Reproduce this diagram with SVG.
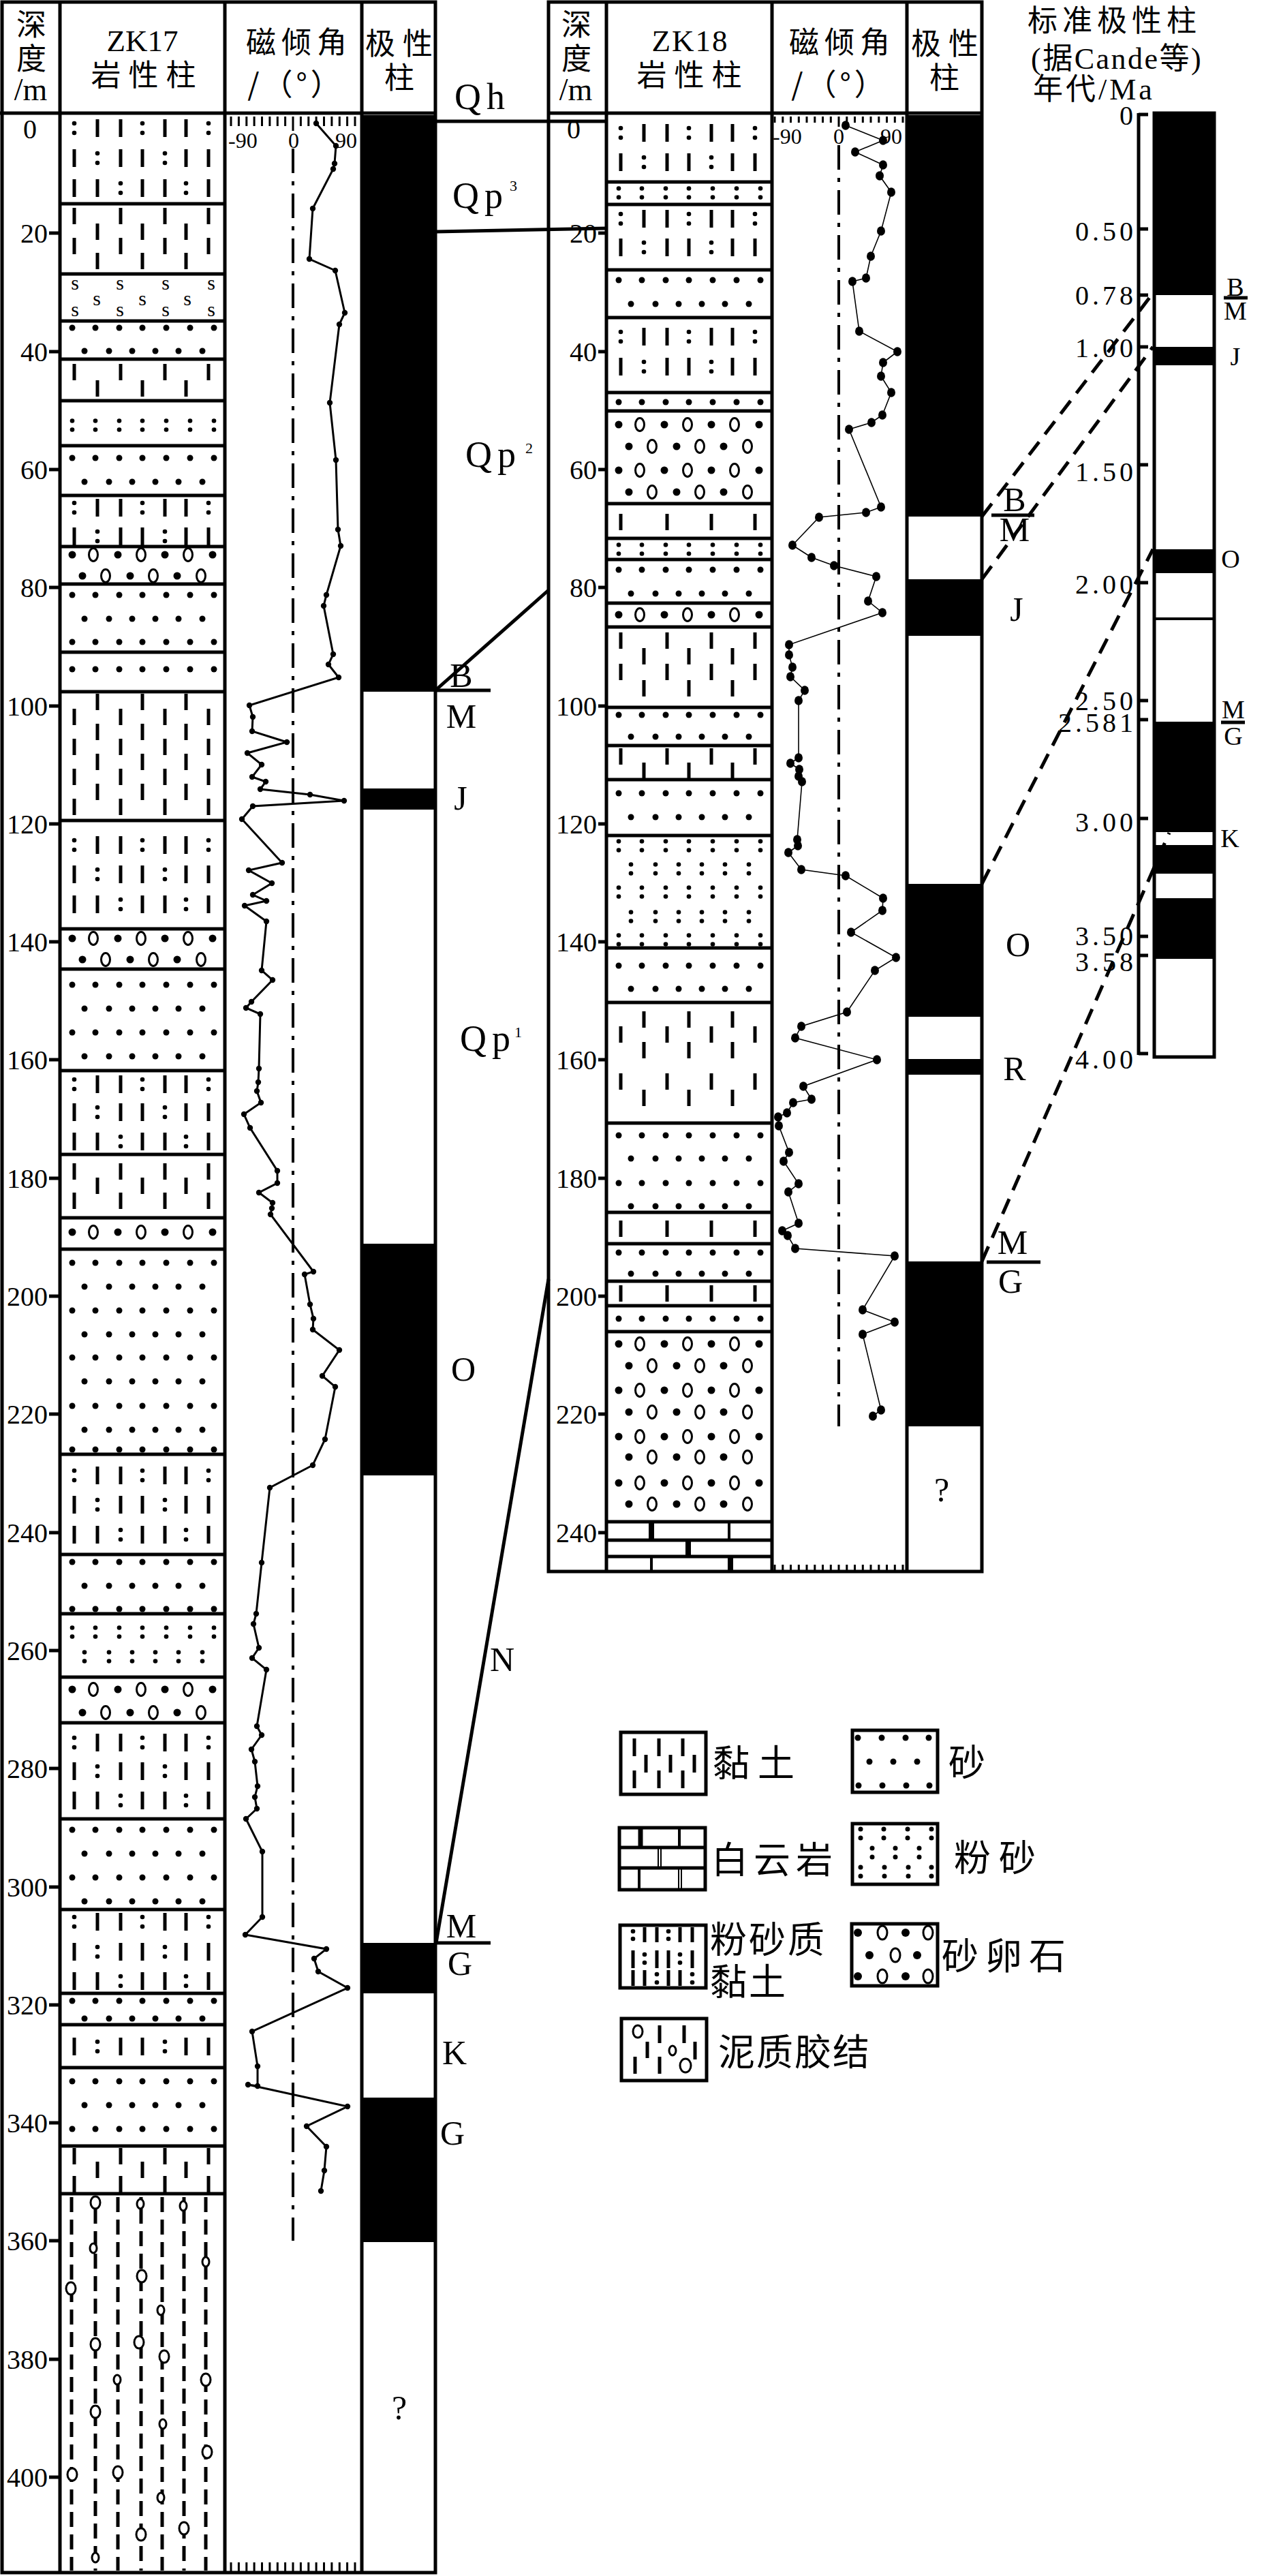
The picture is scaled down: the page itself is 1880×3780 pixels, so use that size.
<svg xmlns="http://www.w3.org/2000/svg" width="1880" height="3780" viewBox="0 0 1880 3780">
<style>
.ln{stroke:#000;stroke-width:5;fill:none}
.tk{stroke:#000;stroke-width:3;fill:none}
.tk5{stroke:#000;stroke-width:5;fill:none}
.cj{font-family:"Noto Sans CJK SC","Liberation Serif",sans-serif;font-size:44px;fill:#000}
.sf{font-family:"Liberation Serif","Noto Sans CJK SC",serif;fill:#000}
.dep{font-size:40px;text-anchor:end}
.lab{font-size:50px;text-anchor:middle}
.sl{font-size:38px;text-anchor:middle}
.ax{font-size:32px}
.mid{text-anchor:middle}
.zero{stroke:#000;stroke-width:4;stroke-dasharray:36 12 6 12;fill:none}
.cv17{stroke:#000;stroke-width:3;fill:none;marker-start:url(#d17);marker-mid:url(#d17);marker-end:url(#d17)}
.cv18{stroke:#000;stroke-width:1.6;fill:none;marker-start:url(#d18);marker-mid:url(#d18);marker-end:url(#d18)}
.dash{stroke:#000;stroke-width:5;stroke-dasharray:24 14;fill:none}
.ov{fill:#fff;stroke:#000;stroke-width:3}
.mud{stroke:#000;stroke-width:5;stroke-dasharray:22 11;fill:none}
.lg{font-family:"Noto Sans CJK SC",sans-serif;font-size:54px;fill:#000}
</style>
<defs>
<marker id="d17" markerWidth="10" markerHeight="10" refX="5" refY="5" markerUnits="userSpaceOnUse"><circle cx="5" cy="5" r="4.2"/></marker>
<marker id="d18" markerWidth="16" markerHeight="16" refX="8" refY="8" markerUnits="userSpaceOnUse"><ellipse cx="8" cy="8" rx="6" ry="6.8"/></marker>
<g id="sA"><circle cx="106" cy="0" r="4.5"/><circle cx="140" cy="0" r="4.5"/><circle cx="175" cy="0" r="4.5"/><circle cx="209" cy="0" r="4.5"/><circle cx="244" cy="0" r="4.5"/><circle cx="279" cy="0" r="4.5"/><circle cx="314" cy="0" r="4.5"/></g>
<g id="sB"><circle cx="124" cy="0" r="4.5"/><circle cx="160" cy="0" r="4.5"/><circle cx="194" cy="0" r="4.5"/><circle cx="228" cy="0" r="4.5"/><circle cx="262" cy="0" r="4.5"/><circle cx="297" cy="0" r="4.5"/></g>
<g id="iA"><circle cx="106" cy="-6.5" r="3.3"/><circle cx="106" cy="6.5" r="3.3"/><circle cx="140" cy="-6.5" r="3.3"/><circle cx="140" cy="6.5" r="3.3"/><circle cx="175" cy="-6.5" r="3.3"/><circle cx="175" cy="6.5" r="3.3"/><circle cx="209" cy="-6.5" r="3.3"/><circle cx="209" cy="6.5" r="3.3"/><circle cx="244" cy="-6.5" r="3.3"/><circle cx="244" cy="6.5" r="3.3"/><circle cx="279" cy="-6.5" r="3.3"/><circle cx="279" cy="6.5" r="3.3"/><circle cx="314" cy="-6.5" r="3.3"/><circle cx="314" cy="6.5" r="3.3"/></g>
<g id="iB"><circle cx="124" cy="-6.5" r="3.3"/><circle cx="124" cy="6.5" r="3.3"/><circle cx="160" cy="-6.5" r="3.3"/><circle cx="160" cy="6.5" r="3.3"/><circle cx="194" cy="-6.5" r="3.3"/><circle cx="194" cy="6.5" r="3.3"/><circle cx="228" cy="-6.5" r="3.3"/><circle cx="228" cy="6.5" r="3.3"/><circle cx="262" cy="-6.5" r="3.3"/><circle cx="262" cy="6.5" r="3.3"/><circle cx="297" cy="-6.5" r="3.3"/><circle cx="297" cy="6.5" r="3.3"/></g>
<g id="gA"><circle cx="106" cy="0" r="5.5"/><ellipse class="ov" cx="137" cy="0" rx="6.5" ry="9.5"/><circle cx="173" cy="0" r="5.5"/><ellipse class="ov" cx="207" cy="0" rx="6.5" ry="9.5"/><circle cx="242" cy="0" r="5.5"/><ellipse class="ov" cx="276" cy="0" rx="6.5" ry="9.5"/><circle cx="312" cy="0" r="5.5"/></g>
<g id="gB"><circle cx="121" cy="0" r="5.5"/><ellipse class="ov" cx="155" cy="0" rx="6.5" ry="9.5"/><circle cx="191" cy="0" r="5.5"/><ellipse class="ov" cx="225" cy="0" rx="6.5" ry="9.5"/><circle cx="260" cy="0" r="5.5"/><ellipse class="ov" cx="295" cy="0" rx="6.5" ry="9.5"/></g>
<g id="sc0"><circle cx="109" cy="-7" r="3.3"/><circle cx="109" cy="7" r="3.3"/><rect x="140.5" y="-13" width="5" height="26"/><rect x="174.5" y="-13" width="5" height="26"/><circle cx="209" cy="-7" r="3.3"/><circle cx="209" cy="7" r="3.3"/><rect x="239.5" y="-13" width="5" height="26"/><rect x="270.5" y="-13" width="5" height="26"/><circle cx="306" cy="-7" r="3.3"/><circle cx="306" cy="7" r="3.3"/></g>
<g id="sc1"><rect x="106.5" y="-13" width="5" height="26"/><circle cx="143" cy="-7" r="3.3"/><circle cx="143" cy="7" r="3.3"/><rect x="174.5" y="-13" width="5" height="26"/><rect x="206.5" y="-13" width="5" height="26"/><circle cx="242" cy="-7" r="3.3"/><circle cx="242" cy="7" r="3.3"/><rect x="270.5" y="-13" width="5" height="26"/><rect x="303.5" y="-13" width="5" height="26"/></g>
<g id="sc2"><rect x="106.5" y="-13" width="5" height="26"/><rect x="140.5" y="-13" width="5" height="26"/><circle cx="177" cy="-7" r="3.3"/><circle cx="177" cy="7" r="3.3"/><rect x="206.5" y="-13" width="5" height="26"/><rect x="239.5" y="-13" width="5" height="26"/><circle cx="273" cy="-7" r="3.3"/><circle cx="273" cy="7" r="3.3"/><rect x="303.5" y="-13" width="5" height="26"/></g>
<g id="cA"><rect x="106.5" y="-12" width="5" height="24"/><rect x="174.5" y="-12" width="5" height="24"/><rect x="239.5" y="-12" width="5" height="24"/><rect x="303.5" y="-12" width="5" height="24"/></g>
<g id="cB"><rect x="140.5" y="-12" width="5" height="24"/><rect x="206.5" y="-12" width="5" height="24"/><rect x="270.5" y="-12" width="5" height="24"/></g>
</defs>
<rect width="1880" height="3780" fill="#fff"/>

<g id="zk17">
<g id="zk17-polarity" fill="#000">
<rect x="531" y="169" width="108" height="846"/>
<rect x="531" y="1157" width="108" height="31"/>
<rect x="531" y="1825" width="108" height="340"/>
<rect x="531" y="2851" width="108" height="74"/>
<rect x="531" y="3078" width="108" height="212"/>
</g>
<g id="zk17-lith" fill="#000">
<use href="#sc0" y="188"/><use href="#sc1" y="232"/><use href="#sc2" y="276"/>
<use href="#cA" y="317"/><use href="#cB" y="340"/><use href="#cA" y="361"/><use href="#cB" y="383"/>
<g class="sf" font-size="30" text-anchor="middle">
<text x="110" y="425">s</text><text x="176" y="425">s</text><text x="243" y="425">s</text><text x="310" y="425">s</text>
<text x="142" y="448">s</text><text x="209" y="448">s</text><text x="275" y="448">s</text>
<text x="110" y="464">s</text><text x="176" y="464">s</text><text x="243" y="464">s</text><text x="310" y="464">s</text>
</g>
<use href="#sA" y="481"/><use href="#sB" y="515"/>
<use href="#cA" y="546"/><use href="#cB" y="570"/>
<use href="#iA" y="624"/>
<use href="#sA" y="672"/><use href="#sB" y="707"/>
<use href="#sc0" y="745"/><use href="#sc1" y="787"/>
<use href="#gA" y="814"/><use href="#gB" y="845"/>
<use href="#sA" y="873"/><use href="#sB" y="908"/><use href="#sA" y="942"/>
<use href="#sA" y="982"/>
<use href="#cB" y="1030"/><use href="#cA" y="1052"/><use href="#cB" y="1074"/><use href="#cA" y="1096"/><use href="#cB" y="1118"/><use href="#cA" y="1140"/><use href="#cB" y="1162"/><use href="#cA" y="1184"/>
<use href="#sc0" y="1240"/><use href="#sc1" y="1283"/><use href="#sc2" y="1327"/>
<use href="#gA" y="1377"/><use href="#gB" y="1408"/>
<use href="#sA" y="1445"/><use href="#sB" y="1480"/><use href="#sA" y="1515"/><use href="#sB" y="1550"/>
<use href="#sc0" y="1591"/><use href="#sc1" y="1632"/><use href="#sc2" y="1675"/>
<use href="#cA" y="1719"/><use href="#cB" y="1740"/><use href="#cA" y="1762"/>
<use href="#gA" y="1808"/>
<use href="#sA" y="1853"/><use href="#sB" y="1888"/><use href="#sA" y="1923"/><use href="#sB" y="1958"/><use href="#sA" y="1992"/><use href="#sB" y="2027"/><use href="#sA" y="2063"/><use href="#sB" y="2098"/><use href="#sA" y="2127"/>
<use href="#sc0" y="2165"/><use href="#sc1" y="2208"/><use href="#sc2" y="2252"/>
<use href="#sA" y="2292"/><use href="#sB" y="2327"/><use href="#sA" y="2361"/>
<use href="#iA" y="2395"/><use href="#iB" y="2431"/>
<use href="#gA" y="2479"/><use href="#gB" y="2513"/>
<use href="#sc0" y="2557"/><use href="#sc1" y="2599"/><use href="#sc2" y="2642"/>
<use href="#sA" y="2685"/><use href="#sB" y="2720"/><use href="#sA" y="2755"/><use href="#sB" y="2790"/>
<use href="#sc0" y="2820"/><use href="#sc1" y="2864"/><use href="#sc2" y="2907"/>
<use href="#sA" y="2936"/><use href="#sB" y="2962"/>
<use href="#sc1" y="3003"/>
<use href="#sA" y="3054"/><use href="#sB" y="3089"/><use href="#sA" y="3124"/>
<use href="#cA" y="3164"/><use href="#cB" y="3184"/><use href="#cA" y="3205"/>
<path class="mud" d="M105 3224V3772M173 3224V3772M238 3224V3772M302 3224V3772"/>
<path class="mud" style="stroke-dashoffset:16" d="M140 3224V3772M207 3224V3772M270 3224V3772"/>
<ellipse class="ov" cx="140" cy="3232" rx="7" ry="9"/><ellipse class="ov" cx="206" cy="3234" rx="5" ry="7"/><ellipse class="ov" cx="269" cy="3237" rx="5" ry="7"/>
<ellipse class="ov" cx="137" cy="3299" rx="5" ry="7"/><ellipse class="ov" cx="302" cy="3319" rx="5" ry="7"/><ellipse class="ov" cx="208" cy="3340" rx="7" ry="9"/>
<ellipse class="ov" cx="104" cy="3358" rx="7" ry="9"/><ellipse class="ov" cx="236" cy="3390" rx="5" ry="7"/><ellipse class="ov" cx="140" cy="3440" rx="7" ry="9"/>
<ellipse class="ov" cx="204" cy="3437" rx="7" ry="9"/><ellipse class="ov" cx="241" cy="3458" rx="7" ry="9"/><ellipse class="ov" cx="172" cy="3492" rx="5" ry="7"/>
<ellipse class="ov" cx="302" cy="3492" rx="7" ry="9"/><ellipse class="ov" cx="140" cy="3539" rx="7" ry="9"/><ellipse class="ov" cx="239" cy="3557" rx="5" ry="7"/>
<ellipse class="ov" cx="304" cy="3598" rx="7" ry="9"/><ellipse class="ov" cx="106" cy="3631" rx="7" ry="9"/><ellipse class="ov" cx="173" cy="3628" rx="7" ry="9"/>
<ellipse class="ov" cx="236" cy="3665" rx="5" ry="7"/><ellipse class="ov" cx="207" cy="3719" rx="7" ry="9"/><ellipse class="ov" cx="270" cy="3710" rx="7" ry="9"/>
<ellipse class="ov" cx="140" cy="3753" rx="5" ry="7"/>
</g>
<path id="zk17-layers" class="ln" d="M88 299H330M88 402H330M88 471H330M88 527H330M88 588H330M88 654H330M88 727H330M88 802H330M88 857H330M88 957H330M88 1015H330M88 1204H330M88 1363H330M88 1422H330M88 1571H330M88 1694H330M88 1787H330M88 1833H330M88 2134H330M88 2281H330M88 2368H330M88 2461H330M88 2528H330M88 2669H330M88 2802H330M88 2925H330M88 2971H330M88 3034H330M88 3149H330M88 3219H330"/>
<path id="zk17-frame" class="ln" d="M3 3H639V3775H3ZM88 3V3775M330 3V3775M531 3V3775"/>
<path class="ln" stroke-width="8" d="M0 166H639"/>
<path class="tk5" d="M72 342H88M72 516H88M72 689H88M72 862H88M72 1036H88M72 1209H88M72 1382H88M72 1555H88M72 1729H88M72 1902H88M72 2075H88M72 2249H88M72 2422H88M72 2595H88M72 2769H88M72 2942H88M72 3115H88M72 3288H88M72 3462H88M72 3635H88"/>
<g class="sf dep">
<text x="44" y="203" text-anchor="middle">0</text>
<text x="70" y="356">20</text><text x="70" y="530">40</text><text x="70" y="703">60</text><text x="70" y="876">80</text>
<text x="70" y="1050">100</text><text x="70" y="1223">120</text><text x="70" y="1396">140</text><text x="70" y="1569">160</text>
<text x="70" y="1743">180</text><text x="70" y="1916">200</text><text x="70" y="2089">220</text><text x="70" y="2263">240</text>
<text x="70" y="2436">260</text><text x="70" y="2609">280</text><text x="70" y="2783">300</text><text x="70" y="2956">320</text>
<text x="70" y="3129">340</text><text x="70" y="3302">360</text><text x="70" y="3476">380</text><text x="70" y="3649">400</text>
</g>
<path class="tk" d="M339 171V185M350.4 171V185M361.8 171V185M373.1 171V185M384.5 171V185M395.9 171V185M407.3 171V185M418.6 171V185M430 171V192M441.4 171V185M452.8 171V185M464.1 171V185M475.5 171V185M486.9 171V185M498.3 171V185M509.6 171V185M521 171V185"/>
<path class="tk" d="M339 3760V3775M350.4 3760V3775M361.8 3760V3775M373.1 3760V3775M384.5 3760V3775M395.9 3760V3775M407.3 3760V3775M418.6 3760V3775M430 3760V3775M441.4 3760V3775M452.8 3760V3775M464.1 3760V3775M475.5 3760V3775M486.9 3760V3775M498.3 3760V3775M509.6 3760V3775M521 3760V3775"/>
<text class="sf ax" x="335" y="217">-90</text><text class="sf ax mid" x="431" y="217">0</text><text class="sf ax mid" x="508" y="217">90</text>
<path class="zero" d="M430 218V3288"/>
<polyline class="cv17" points="464,181 493,214 491,240 489,248 459,306 454,380 492,397 506,459 498,476 484,591 493,675 496,777 500,801 479,873 475,889 489,960 482,975 497,994 366,1035 371,1052 370,1073 421,1089 363,1105 384,1122 370,1140 390,1147 382,1158 455,1166 505,1175 371,1183 355,1202 414,1266 365,1277 399,1296 371,1313 391,1322 359,1329 391,1352 384,1424 400,1438 369,1470 361,1479 382,1488 380,1568 379,1588 377,1601 383,1618 358,1635 367,1655 407,1718 407,1736 380,1750 400,1765 399,1773 397,1782 460,1866 447,1870 455,1914 460,1935 459,1951 498,1981 473,2019 492,2035 477,2112 459,2150 396,2183 384,2293 376,2368 372,2383 380,2418 370,2433 391,2450 377,2533 384,2546 369,2567 374,2585 378,2621 374,2637 377,2654 361,2669 385,2717 385,2813 360,2839 479,2860 461,2874 467,2893 510,2917 370,2981 378,3032 378,3061 364,3059 510,3091 450,3120 479,3150 476,3185 471,3215"/>
<g id="zk17-header">
<text class="cj mid"><tspan x="46" y="52">深</tspan><tspan x="46" y="102">度</tspan><tspan class="sf" font-size="46" x="45" y="147">/m</tspan></text>
<text class="mid"><tspan class="sf" font-size="45" x="209" y="75">ZK17</tspan><tspan class="cj" x="216" y="126" letter-spacing="11">岩性柱</tspan></text>
<text class="cj mid"><tspan x="439" y="78" letter-spacing="8">磁倾角</tspan><tspan x="434" y="140" letter-spacing="5">/（°）</tspan></text>
<text class="cj mid"><tspan x="591" y="80" letter-spacing="11">极性</tspan><tspan x="586" y="130">柱</tspan></text>
</g>
</g>

<g id="zk18">
<g id="zk18-polarity" fill="#000">
<rect x="1331" y="169" width="110" height="589"/>
<rect x="1331" y="850" width="110" height="83"/>
<rect x="1331" y="1297" width="110" height="195"/>
<rect x="1331" y="1554" width="110" height="23"/>
<rect x="1331" y="1851" width="110" height="242"/>
</g>
<g id="zk18-lith" fill="#000">
<use href="#sc0" x="802" y="195"/><use href="#sc1" x="802" y="238"/>
<use href="#iA" x="802" y="283"/>
<use href="#sc0" x="802" y="321"/><use href="#sc1" x="802" y="363"/>
<use href="#sA" x="802" y="411"/><use href="#sB" x="802" y="446"/>
<use href="#sc0" x="802" y="494"/><use href="#sc1" x="802" y="538"/>
<use href="#sA" x="802" y="590"/>
<use href="#gA" x="802" y="623"/><use href="#gB" x="802" y="655"/><use href="#gA" x="802" y="690"/><use href="#gB" x="802" y="722"/>
<use href="#cA" x="802" y="766"/>
<use href="#iA" x="802" y="806"/>
<use href="#sA" x="802" y="836"/><use href="#sB" x="802" y="871"/>
<use href="#gA" x="802" y="902"/>
<use href="#cA" x="802" y="940"/><use href="#cB" x="802" y="963"/><use href="#cA" x="802" y="986"/><use href="#cB" x="802" y="1010"/>
<use href="#sA" x="802" y="1049"/><use href="#sB" x="802" y="1081"/>
<use href="#cA" x="802" y="1110"/><use href="#cB" x="802" y="1131"/>
<use href="#sA" x="802" y="1164"/><use href="#sB" x="802" y="1199"/>
<use href="#iA" x="802" y="1241"/><use href="#iB" x="802" y="1275"/><use href="#iA" x="802" y="1309"/><use href="#iB" x="802" y="1345"/><use href="#iA" x="802" y="1379"/>
<use href="#sA" x="802" y="1417"/><use href="#sB" x="802" y="1451"/>
<use href="#cB" x="802" y="1496"/><use href="#cA" x="802" y="1518"/><use href="#cB" x="802" y="1541"/><use href="#cA" x="802" y="1587"/><use href="#cB" x="802" y="1611"/>
<use href="#sA" x="802" y="1666"/><use href="#sB" x="802" y="1700"/><use href="#sA" x="802" y="1736"/><use href="#sB" x="802" y="1770"/>
<use href="#cA" x="802" y="1803"/>
<use href="#sA" x="802" y="1838"/><use href="#sB" x="802" y="1869"/>
<use href="#cA" x="802" y="1898"/>
<use href="#sA" x="802" y="1935"/>
<use href="#gA" x="802" y="1972"/><use href="#gB" x="802" y="2004"/><use href="#gA" x="802" y="2040"/><use href="#gB" x="802" y="2072"/><use href="#gA" x="802" y="2108"/><use href="#gB" x="802" y="2138"/><use href="#gA" x="802" y="2176"/><use href="#gB" x="802" y="2207"/>
</g>
<path id="zk18-layers" class="ln" d="M890 267H1133M890 300H1133M890 396H1133M890 466H1133M890 576H1133M890 603H1133M890 739H1133M890 790H1133M890 821H1133M890 885H1133M890 920H1133M890 1038H1133M890 1094H1133M890 1144H1133M890 1226H1133M890 1391H1133M890 1471H1133M890 1648H1133M890 1779H1133M890 1825H1133M890 1880H1133M890 1916H1133M890 1954H1133M890 2233H1133M890 2260H1133M890 2284H1133"/>
<path id="zk18-dolomite" d="M956 2233V2260M1010 2260V2284M1072 2284V2306" stroke="#000" stroke-width="8"/>
<path d="M1070 2233V2260M956 2284V2306" stroke="#000" stroke-width="4"/>
<path id="zk18-frame" class="ln" d="M805 3H1441V2306H805ZM890 3V2306M1133 3V2306M1331 3V2306"/>
<path class="ln" stroke-width="8" d="M805 166H1441"/>
<path class="tk5" d="M878 342H890M878 516H890M878 689H890M878 862H890M878 1036H890M878 1209H890M878 1382H890M878 1555H890M878 1729H890M878 1902H890M878 2075H890M878 2249H890"/>
<g class="sf dep">
<text x="842" y="203" text-anchor="middle">0</text>
<text x="876" y="356">20</text><text x="876" y="530">40</text><text x="876" y="703">60</text><text x="876" y="876">80</text>
<text x="876" y="1050">100</text><text x="876" y="1223">120</text><text x="876" y="1396">140</text><text x="876" y="1569">160</text>
<text x="876" y="1743">180</text><text x="876" y="1916">200</text><text x="876" y="2089">220</text><text x="876" y="2263">240</text>
</g>
<path class="tk" d="M1137 171V180M1148.8 171V180M1160.5 171V180M1172.3 171V180M1184 171V180M1195.8 171V180M1207.5 171V180M1219.3 171V180M1231 171V186M1242.8 171V180M1254.5 171V180M1266.3 171V180M1278 171V180M1289.8 171V180M1301.5 171V180M1313.3 171V180M1325 171V180"/>
<path class="tk" d="M1137 2296V2306M1148.8 2296V2306M1160.5 2296V2306M1172.3 2296V2306M1184 2296V2306M1195.8 2296V2306M1207.5 2296V2306M1219.3 2296V2306M1231 2296V2306M1242.8 2296V2306M1254.5 2296V2306M1266.3 2296V2306M1278 2296V2306M1289.8 2296V2306M1301.5 2296V2306M1313.3 2296V2306M1325 2296V2306"/>
<text class="sf ax" x="1134" y="211">-90</text><text class="sf ax mid" x="1231" y="211">0</text><text class="sf ax mid" x="1308" y="211">90</text>
<path class="zero" d="M1231 213V2093"/>
<polyline class="cv18" points="1241,184 1296,206 1255,223 1296,242 1291,258 1308,282 1293,339 1278,376 1271,408 1251,413 1261,486 1317,516 1296,532 1293,552 1308,576 1295,609 1279,620 1246,630 1293,744 1271,752 1202,759 1163,800 1191,818 1224,830 1286,846 1274,882 1295,899 1158,946 1158,961 1163,979 1160,993 1181,1013 1172,1028 1172,1112 1160,1120 1173,1129 1172,1139 1177,1147 1170,1232 1171,1241 1157,1251 1176,1276 1241,1285 1296,1318 1295,1336 1249,1368 1315,1405 1284,1424 1243,1485 1176,1506 1167,1523 1287,1555 1179,1594 1191,1613 1164,1618 1155,1633 1142,1639 1143,1652 1158,1691 1150,1704 1172,1737 1157,1749 1172,1795 1148,1806 1156,1813 1167,1832 1313,1843 1266,1922 1313,1940 1266,1958 1293,2069 1281,2078"/>
<g id="zk18-header">
<text class="cj mid"><tspan x="846" y="52">深</tspan><tspan x="846" y="102">度</tspan><tspan class="sf" font-size="46" x="845" y="147">/m</tspan></text>
<text class="mid"><tspan class="sf" font-size="45" x="1013" y="75" letter-spacing="2">ZK18</tspan><tspan class="cj" x="1017" y="126" letter-spacing="11">岩性柱</tspan></text>
<text class="cj mid"><tspan x="1236" y="78" letter-spacing="8">磁倾角</tspan><tspan x="1232" y="140" letter-spacing="5">/（°）</tspan></text>
<text class="cj mid"><tspan x="1392" y="80" letter-spacing="11">极性</tspan><tspan x="1386" y="130">柱</tspan></text>
</g>
</g>

<g id="std-column">
<text class="sf" font-size="44"><tspan class="cj" font-size="46" x="1508" y="46" letter-spacing="7">标准极性柱</tspan><tspan x="1513" y="101" letter-spacing="2.5">(据Cande等)</tspan><tspan x="1516" y="146" letter-spacing="4">年代/Ma</tspan></text>
<g fill="#000">
<rect x="1694" y="166" width="88" height="267"/>
<rect x="1694" y="509" width="88" height="27"/>
<rect x="1694" y="806" width="88" height="35"/>
<rect x="1694" y="1059" width="88" height="162"/>
<rect x="1694" y="1240" width="88" height="42"/>
<rect x="1694" y="1318" width="88" height="89"/>
</g>
<rect class="ln" x="1694" y="166" width="88" height="1385"/>
<path d="M1694 908H1782" stroke="#000" stroke-width="4"/>
<path class="ln" d="M1671 166V1548"/>
<path class="tk5" d="M1671 168H1685M1671 336H1685M1671 433H1685M1671 509H1685M1671 682H1685M1671 855H1685M1671 1028H1685M1671 1056H1685M1671 1201H1685M1671 1374H1685M1671 1402H1685M1671 1546H1685"/>
<g class="sf" font-size="40" text-anchor="end" letter-spacing="5">
<text x="1668" y="183">0</text>
<text x="1668" y="353">0.50</text>
<text x="1668" y="447">0.78</text>
<text x="1668" y="524">1.00</text>
<text x="1668" y="706">1.50</text>
<text x="1668" y="871">2.00</text>
<text><tspan x="1668" y="1042">2.50</tspan><tspan x="1668" y="1074">2.581</tspan></text>
<text x="1668" y="1220">3.00</text>
<text><tspan x="1668" y="1387">3.50</tspan><tspan x="1668" y="1425">3.58</tspan></text>
<text x="1668" y="1568">4.00</text>
</g>
<g class="sf sl">
<text><tspan x="1813" y="434">B</tspan><tspan x="1813" y="469">M</tspan></text>
<text x="1813" y="536">J</text>
<text x="1806" y="833">O</text>
<text><tspan x="1810" y="1054">M</tspan><tspan x="1810" y="1093">G</tspan></text>
<text x="1805" y="1243">K</text>
</g>
<path class="tk5" d="M1796 437H1831M1792 1060H1827"/>
</g>

<g id="connectors">
<path class="ln" d="M639 178H890"/>
<path class="ln" d="M639 340L890 335"/>
<path class="ln" stroke-width="4" d="M639 1013L805 866"/>
<path class="ln" stroke-width="4" d="M640 2851L805 1877"/>
<path class="dash" d="M1441 758L1690 433"/>
<path class="dash" d="M1441 850L1692 509"/>
<path class="dash" d="M1441 1297L1692 806"/>
<path class="dash" d="M1441 1851L1716 1222"/>
</g>

<g id="strat-labels">
<text class="sf" font-size="54" x="667" y="160" letter-spacing="8">Qh</text>
<text class="sf" font-size="54" x="664" y="305">Q<tspan dx="8">p</tspan><tspan font-size="22" dx="10" dy="-25">3</tspan></text>
<text class="sf" font-size="54" x="683" y="685">Q<tspan dx="8">p</tspan><tspan font-size="22" dx="14" dy="-20">2</tspan></text>
<text class="sf" font-size="54" x="675" y="1542">Q<tspan dx="8">p</tspan><tspan font-size="22" dx="6" dy="-20">1</tspan></text>
<g class="sf lab">
<text><tspan x="677" y="1008">B</tspan><tspan x="677" y="1068">M</tspan></text>
<text x="676" y="1188">J</text>
<text x="680" y="2026">O</text>
<text x="737" y="2452">N</text>
<text><tspan x="677" y="2843">M</tspan><tspan x="675" y="2898">G</tspan></text>
<text x="667" y="3029">K</text>
<text x="664" y="3147">G</text>
<text x="586" y="3550">?</text>
<text><tspan x="1489" y="750">B</tspan><tspan x="1489" y="794">M</tspan></text>
<text x="1492" y="911">J</text>
<text x="1494" y="1403">O</text>
<text x="1489" y="1585">R</text>
<text><tspan x="1486" y="1840">M</tspan><tspan x="1483" y="1897">G</tspan></text>
<text x="1382" y="2203">?</text>
</g>
<path class="tk5" d="M639 1013H720M639 2851H720M1455 756H1518M1448 1852H1527"/>
</g>

<g id="legend">
<g id="lg-clay">
<rect class="ln" stroke-width="6" x="911" y="2542" width="125" height="91"/>
<g fill="#000"><rect x="928.5" y="2551" width="5" height="26"/><rect x="964.5" y="2551" width="5" height="26"/><rect x="999.5" y="2551" width="5" height="26"/>
<rect x="945.5" y="2575" width="5" height="26"/><rect x="981.5" y="2575" width="5" height="26"/><rect x="1016.5" y="2575" width="5" height="26"/>
<rect x="928.5" y="2598" width="5" height="26"/><rect x="964.5" y="2598" width="5" height="26"/><rect x="999.5" y="2598" width="5" height="26"/></g>
<text class="lg" x="1046" y="2607" letter-spacing="12">黏土</text>
</g>
<g id="lg-sand">
<rect class="ln" stroke-width="6" x="1251" y="2539" width="125" height="91"/>
<g fill="#000"><circle cx="1259" cy="2550" r="4.5"/><circle cx="1294" cy="2550" r="4.5"/><circle cx="1329" cy="2550" r="4.5"/><circle cx="1363" cy="2550" r="4.5"/>
<circle cx="1276" cy="2585" r="4.5"/><circle cx="1311" cy="2585" r="4.5"/><circle cx="1346" cy="2585" r="4.5"/>
<circle cx="1260" cy="2620" r="4.5"/><circle cx="1295" cy="2620" r="4.5"/><circle cx="1330" cy="2620" r="4.5"/><circle cx="1364" cy="2620" r="4.5"/></g>
<text class="lg" x="1392" y="2606">砂</text>
</g>
<g id="lg-dolomite">
<rect class="ln" stroke-width="6" x="909" y="2682" width="126" height="91"/>
<path class="ln" d="M909 2711H1035M909 2741H1035"/>
<path d="M940 2682V2711" stroke="#000" stroke-width="7"/>
<path d="M997 2682V2711M938 2741V2773" stroke="#000" stroke-width="4"/>
<path d="M966 2711V2741M970 2711V2741M996 2741V2773M1000 2741V2773" stroke="#000" stroke-width="2"/>
<text class="lg" x="1044" y="2749" letter-spacing="8">白云岩</text>
</g>
<g id="lg-silt">
<rect class="ln" stroke-width="6" x="1251" y="2676" width="125" height="89"/>
<g fill="#000"><circle cx="1263" cy="2684" r="3.5"/><circle cx="1263" cy="2697" r="3.5"/><circle cx="1297" cy="2684" r="3.5"/><circle cx="1297" cy="2697" r="3.5"/><circle cx="1332" cy="2684" r="3.5"/><circle cx="1332" cy="2697" r="3.5"/><circle cx="1367" cy="2684" r="3.5"/><circle cx="1367" cy="2697" r="3.5"/>
<circle cx="1280" cy="2712" r="3.5"/><circle cx="1280" cy="2725" r="3.5"/><circle cx="1314" cy="2712" r="3.5"/><circle cx="1314" cy="2725" r="3.5"/><circle cx="1349" cy="2712" r="3.5"/><circle cx="1349" cy="2725" r="3.5"/>
<circle cx="1263" cy="2740" r="3.5"/><circle cx="1263" cy="2753" r="3.5"/><circle cx="1298" cy="2740" r="3.5"/><circle cx="1298" cy="2753" r="3.5"/><circle cx="1333" cy="2740" r="3.5"/><circle cx="1333" cy="2753" r="3.5"/><circle cx="1367" cy="2740" r="3.5"/><circle cx="1367" cy="2753" r="3.5"/></g>
<text class="lg" x="1400" y="2746" letter-spacing="12">粉砂</text>
</g>
<g id="lg-siltyclay">
<rect class="ln" stroke-width="6" x="910" y="2825" width="126" height="92"/>
<g fill="#000"><circle cx="929" cy="2834" r="3.3"/><circle cx="929" cy="2845" r="3.3"/><rect x="943.5" y="2828" width="5" height="22"/><rect x="961.5" y="2828" width="5" height="22"/><circle cx="981" cy="2834" r="3.3"/><circle cx="981" cy="2845" r="3.3"/><rect x="995.5" y="2828" width="5" height="22"/><rect x="1013.5" y="2828" width="5" height="22"/>
<rect x="926.5" y="2862" width="5" height="26"/><circle cx="946" cy="2868" r="3.3"/><circle cx="946" cy="2880" r="3.3"/><rect x="961.5" y="2862" width="5" height="26"/><rect x="978.5" y="2862" width="5" height="26"/><circle cx="998" cy="2868" r="3.3"/><circle cx="998" cy="2880" r="3.3"/><rect x="1013.5" y="2862" width="5" height="26"/>
<rect x="926.5" y="2891" width="5" height="23"/><rect x="943.5" y="2891" width="5" height="23"/><circle cx="964" cy="2897" r="3.3"/><circle cx="964" cy="2909" r="3.3"/><rect x="978.5" y="2891" width="5" height="23"/><rect x="995.5" y="2891" width="5" height="23"/><circle cx="1016" cy="2897" r="3.3"/><circle cx="1016" cy="2909" r="3.3"/></g>
<text class="lg" letter-spacing="3"><tspan x="1042" y="2866">粉砂质</tspan><tspan x="1042" y="2928">黏土</tspan></text>
</g>
<g id="lg-gravel">
<rect class="ln" stroke-width="6" x="1250" y="2823" width="126" height="91"/>
<g fill="#000"><circle cx="1259" cy="2836" r="6"/><circle cx="1329" cy="2836" r="6"/><circle cx="1276" cy="2869" r="6"/><circle cx="1346" cy="2869" r="6"/><circle cx="1259" cy="2900" r="6"/><circle cx="1329" cy="2900" r="6"/></g>
<ellipse class="ov" cx="1295" cy="2836" rx="7" ry="10"/><ellipse class="ov" cx="1362" cy="2836" rx="7" ry="10"/><ellipse class="ov" cx="1314" cy="2869" rx="7" ry="10"/><ellipse class="ov" cx="1295" cy="2900" rx="7" ry="10"/><ellipse class="ov" cx="1362" cy="2900" rx="7" ry="10"/>
<text class="lg" x="1382" y="2890" letter-spacing="10">砂卵石</text>
</g>
<g id="lg-mud">
<rect class="ln" stroke-width="6" x="912" y="2962" width="125" height="91"/>
<g fill="#000"><rect x="965.5" y="2972" width="5" height="26"/><rect x="1001.5" y="2972" width="5" height="26"/><rect x="947.5" y="2996" width="5" height="24"/><rect x="1017.5" y="2996" width="5" height="26"/><rect x="929.5" y="3018" width="5" height="25"/><rect x="965.5" y="3018" width="5" height="25"/></g>
<ellipse class="ov" cx="936" cy="2981" rx="7" ry="9"/><ellipse class="ov" cx="987" cy="3009" rx="5" ry="7"/><ellipse class="ov" cx="1006" cy="3031" rx="8" ry="10"/>
<text class="lg" x="1054" y="3031" letter-spacing="2">泥质胶结</text>
</g>
</g>
</svg>
